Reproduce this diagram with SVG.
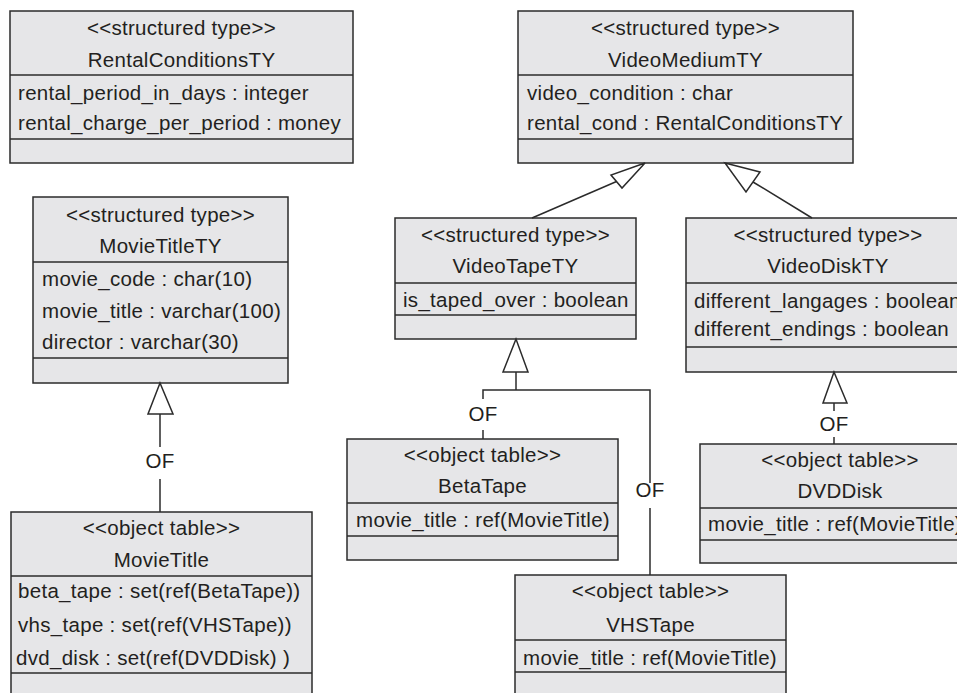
<svg xmlns="http://www.w3.org/2000/svg" width="957" height="693" viewBox="0 0 957 693">
<style>
.box{fill:#e6e6e8;stroke:#2b2b2b;stroke-width:1.5}
.div{stroke:#2b2b2b;stroke-width:1.5}
text{font-family:"Liberation Sans",Arial,sans-serif;font-size:20.5px;fill:#231f20;letter-spacing:0.3px}
.c{text-anchor:middle}
.ln{fill:none;stroke:#2b2b2b;stroke-width:1.5}
.tri{fill:#ffffff;stroke:#2b2b2b;stroke-width:1.5}
</style>
<rect width="957" height="693" fill="#ffffff"/>
<g id="RentalConditionsTY">
<rect class="box" x="10" y="11" width="343" height="152"/>
<line class="div" x1="10" y1="75" x2="353" y2="75"/>
<line class="div" x1="10" y1="139" x2="353" y2="139"/>
<text class="c" x="181.5" y="35">&lt;&lt;structured type&gt;&gt;</text>
<text class="c" x="181.5" y="67">RentalConditionsTY</text>
<text x="18" y="100">rental_period_in_days : integer</text>
<text x="18" y="130">rental_charge_per_period : money</text>
</g>
<g id="VideoMediumTY">
<rect class="box" x="518" y="11" width="335" height="152"/>
<line class="div" x1="518" y1="75" x2="853" y2="75"/>
<line class="div" x1="518" y1="139" x2="853" y2="139"/>
<text class="c" x="685.5" y="35">&lt;&lt;structured type&gt;&gt;</text>
<text class="c" x="685.5" y="67">VideoMediumTY</text>
<text x="527" y="100">video_condition : char</text>
<text x="527" y="130">rental_cond : RentalConditionsTY</text>
</g>
<g id="MovieTitleTY">
<rect class="box" x="33" y="197" width="255" height="186"/>
<line class="div" x1="33" y1="262" x2="288" y2="262"/>
<line class="div" x1="33" y1="358" x2="288" y2="358"/>
<text class="c" x="160.5" y="222">&lt;&lt;structured type&gt;&gt;</text>
<text class="c" x="160.5" y="253">MovieTitleTY</text>
<text x="42" y="286">movie_code : char(10)</text>
<text x="42" y="318">movie_title : varchar(100)</text>
<text x="42" y="349">director : varchar(30)</text>
</g>
<g id="VideoTapeTY">
<rect class="box" x="395" y="218" width="241" height="121"/>
<line class="div" x1="395" y1="283" x2="636" y2="283"/>
<line class="div" x1="395" y1="315" x2="636" y2="315"/>
<text class="c" x="515.5" y="242">&lt;&lt;structured type&gt;&gt;</text>
<text class="c" x="515.5" y="273">VideoTapeTY</text>
<text x="403" y="307">is_taped_over : boolean</text>
</g>
<g id="VideoDiskTY">
<rect class="box" x="686" y="218" width="284" height="154"/>
<line class="div" x1="686" y1="283" x2="970" y2="283"/>
<line class="div" x1="686" y1="347" x2="970" y2="347"/>
<text class="c" x="828" y="242">&lt;&lt;structured type&gt;&gt;</text>
<text class="c" x="828" y="273">VideoDiskTY</text>
<text x="694" y="308">different_langages : boolean</text>
<text x="694" y="336">different_endings : boolean</text>
</g>
<g id="BetaTape">
<rect class="box" x="347" y="439" width="271" height="121"/>
<line class="div" x1="347" y1="503" x2="618" y2="503"/>
<line class="div" x1="347" y1="536" x2="618" y2="536"/>
<text class="c" x="482.5" y="462">&lt;&lt;object table&gt;&gt;</text>
<text class="c" x="482.5" y="493">BetaTape</text>
<text x="356" y="527">movie_title : ref(MovieTitle)</text>
</g>
<g id="DVDDisk">
<rect class="box" x="700" y="444" width="280" height="119"/>
<line class="div" x1="700" y1="508" x2="980" y2="508"/>
<line class="div" x1="700" y1="540" x2="980" y2="540"/>
<text class="c" x="840" y="467">&lt;&lt;object table&gt;&gt;</text>
<text class="c" x="840" y="498">DVDDisk</text>
<text x="708" y="531">movie_title : ref(MovieTitle)</text>
</g>
<g id="VHSTape">
<rect class="box" x="515" y="575" width="271" height="130"/>
<line class="div" x1="515" y1="640" x2="786" y2="640"/>
<line class="div" x1="515" y1="672" x2="786" y2="672"/>
<text class="c" x="650.5" y="598">&lt;&lt;object table&gt;&gt;</text>
<text class="c" x="650.5" y="632">VHSTape</text>
<text x="523" y="665">movie_title : ref(MovieTitle)</text>
</g>
<g id="MovieTitle">
<rect class="box" x="11" y="512" width="301" height="193"/>
<line class="div" x1="11" y1="576" x2="312" y2="576"/>
<line class="div" x1="11" y1="673" x2="312" y2="673"/>
<text class="c" x="161.5" y="535">&lt;&lt;object table&gt;&gt;</text>
<text class="c" x="161.5" y="567">MovieTitle</text>
<text x="18" y="598">beta_tape : set(ref(BetaTape))</text>
<text x="18" y="632">vhs_tape : set(ref(VHSTape))</text>
<text x="16" y="665">dvd_disk : set(ref(DVDDisk) )</text>
</g>
<g id="connectors">
<line class="ln" x1="532" y1="218" x2="616.5" y2="181.5"/>
<polygon class="tri" points="645,163 611,175 622,188"/>
<line class="ln" x1="812" y1="218" x2="753" y2="182"/>
<polygon class="tri" points="725,163 760,172 746,192"/>
<line class="ln" x1="516" y1="372" x2="516" y2="390"/>
<polyline class="ln" points="483,399 483,390 650,390 650,483"/>
<polygon class="tri" points="516,339 503,372 528,372"/>
<line class="ln" x1="483" y1="430" x2="483" y2="439"/>
<text class="c" x="483" y="421">OF</text>
<line class="ln" x1="650" y1="508" x2="650" y2="575"/>
<text class="c" x="650" y="497">OF</text>
<line class="ln" x1="834" y1="403" x2="834" y2="411"/>
<polygon class="tri" points="834,372 823,403 847,403"/>
<line class="ln" x1="834" y1="437" x2="834" y2="444"/>
<text class="c" x="834" y="431">OF</text>
<line class="ln" x1="160" y1="414" x2="160" y2="447"/>
<polygon class="tri" points="160,383 148,414 173,414"/>
<line class="ln" x1="160" y1="479" x2="160" y2="512"/>
<text class="c" x="160" y="468">OF</text>
</g>
</svg>
